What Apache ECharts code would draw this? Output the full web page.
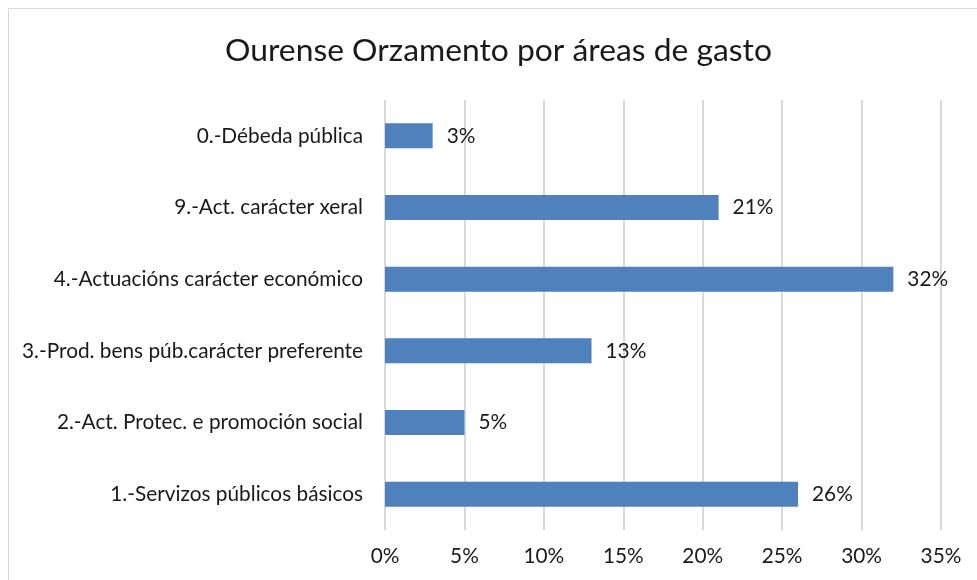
<!DOCTYPE html>
<html>
<head>
<meta charset="utf-8">
<script src="https://cdn.jsdelivr.net/npm/echarts@6/dist/echarts.min.js"></script>
<style>
  html, body { margin: 0; padding: 0; background: #fff; }
  #chart { width: 977px; height: 580px; }
</style>
</head>
<body>
<div id="chart"></div>
<script>
// Budget share by spending area (bottom to top on the axis)
const categories = [
  '1.-Servizos públicos básicos',
  '2.-Act. Protec. e promoción social',
  '3.-Prod. bens púb.carácter preferente',
  '4.-Actuacións carácter económico',
  '9.-Act. carácter xeral',
  '0.-Débeda pública'
];
const shares = [26, 5, 13, 32, 21, 3];
const axisMax = 35;
const axisStep = 5;

const FONT = 'Lato';
const TEXT = '#1a1a1a';
const LABEL_SIZE = 20.8;
const chart = echarts.init(document.getElementById('chart'));
chart.setOption({
  animation: false,
  textStyle: { fontFamily: FONT },
  title: {
    text: 'Ourense Orzamento por áreas de gasto',
    left: 220,
    top: 30,
    textStyle: { fontFamily: FONT, fontSize: 31.8, fontWeight: 'normal', color: TEXT }
  },
  graphic: [{
    type: 'rect',
    silent: true,
    shape: { x: 8.5, y: 8.5, width: 1100, height: 1100 },
    style: { fill: 'none', stroke: '#d9d9d9', lineWidth: 1 }
  }],
  grid: { left: 385, right: 36, top: 100, bottom: 50, containLabel: false },
  xAxis: {
    type: 'value',
    min: 0,
    max: axisMax,
    interval: axisStep,
    axisLine: { show: false },
    axisTick: { show: false },
    axisLabel: { formatter: '{value}%', fontSize: LABEL_SIZE, color: TEXT, margin: 16 },
    splitLine: { show: true, lineStyle: { color: '#d9d9d9', width: 2 } }
  },
  yAxis: {
    type: 'category',
    data: categories,
    axisLine: { show: false },
    axisTick: { show: false },
    axisLabel: { fontSize: LABEL_SIZE, color: TEXT, margin: 22 }
  },
  series: [{
    type: 'bar',
    data: shares,
    barWidth: 25,
    itemStyle: { color: '#4F81BD' },
    label: {
      show: true,
      position: 'right',
      distance: 14,
      formatter: '{c}%',
      fontSize: LABEL_SIZE,
      color: TEXT
    }
  }]
});
</script>
</body>
</html>
